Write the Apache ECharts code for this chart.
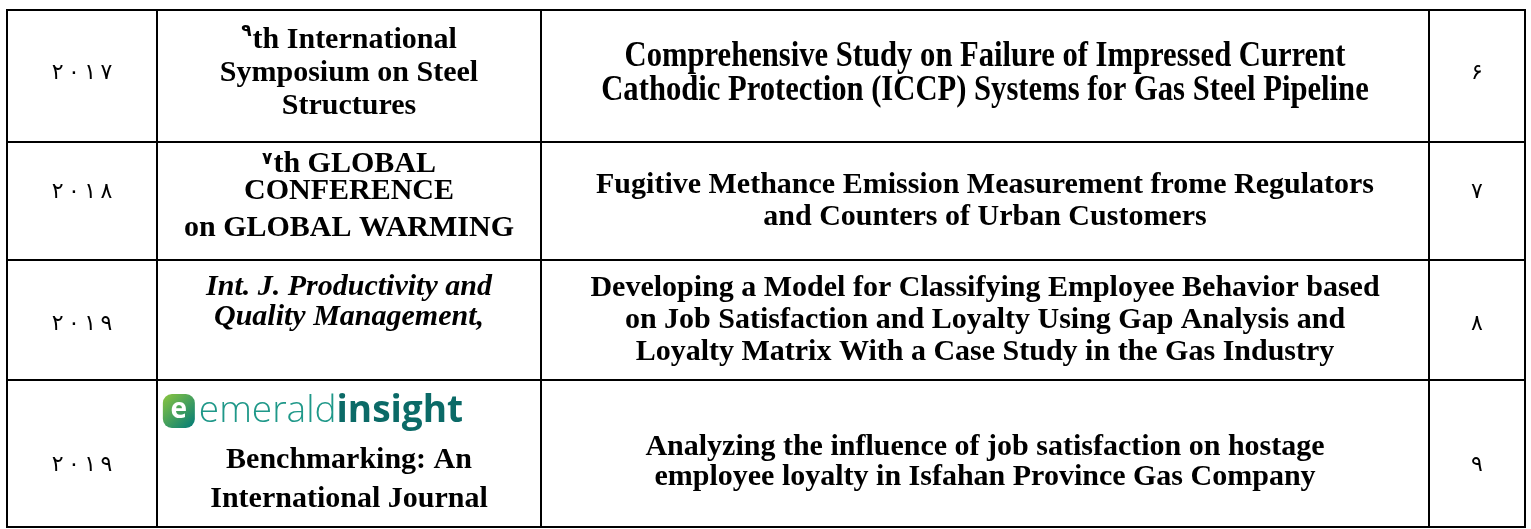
<!DOCTYPE html>
<html><head><meta charset="utf-8">
<script src="https://cdn.jsdelivr.net/npm/echarts@6/dist/echarts.min.js"></script>
<style>html,body{margin:0;padding:0;background:#fff}#c{width:1531px;height:529px}</style>
</head><body><div id="c"></div>
<script>
// ---- table content ----
const years = ['٢٠١٧', '٢٠١٨', '۲۰۱۹', '٢٠١٩'];
const venues = [
  '٩th International\nSymposium on Steel\nStructures',
  '٧th GLOBAL\nCONFERENCE\non GLOBAL WARMING',
  'Int. J. Productivity and\nQuality Management,',
  'Benchmarking: An\nInternational Journal'
];
const venueLogos = ['', '', '', 'emerald|insight'];
const titles = [
  'Comprehensive Study on Failure of Impressed Current\nCathodic Protection (ICCP) Systems for Gas Steel Pipeline',
  'Fugitive Methance Emission Measurement frome Regulators\nand Counters of Urban Customers',
  'Developing a Model for Classifying Employee Behavior based\non Job Satisfaction and Loyalty Using Gap Analysis and\nLoyalty Matrix With a Case Study in the Gas Industry',
  'Analyzing the influence of job satisfaction on hostage\nemployee loyalty in Isfahan Province Gas Company'
];
const numbers = ['۶', '٧', '٨', '٩'];

// ---- layout (pixels inside the grid) ----
const colEdges = [0, 150, 534, 1422, 1518];
const rowEdges = [0, 132, 250, 370, 517];
const venueLineHeights = [[33, 33, 33], [27, 27, 46], [30, 30], [39, 39]];
const venueDy = [-3, 0, -18, 0];
const venueItalic = [false, false, true, false];
const titleFont = [35, 30, 30, 30];
const titleLH = [34, 32, 32, 30];
const titleScaleX = [0.875, 1, 1, 1];
const titleDy = [-2, 0, 0, 9];
const sideDy = [-3, -9, 4, 12];
const SERIF = '"Liberation Serif","Times New Roman",serif';
const ARAB = '"DejaVu Sans",sans-serif';

const cells = [];
for (let r = 0; r < years.length; r++) for (let c = 0; c < 4; c++) cells.push([r, c]);

function spacedDigits(s) {
  return '\u202D' + s.split('').join('\u2009') + '\u202C';
}

function venueRich(r) {
  const lines = venues[r].split('\n');
  const rich = {
    sup: { fontFamily: ARAB, fontSize: 17, fontWeight: 'bold', fill: '#000', verticalAlign: 'top', padding: [0, 1, 0, 0] }
  };
  const out = lines.map((ln, i) => {
    rich['l' + i] = {
      fontFamily: SERIF, fontSize: 30, fontWeight: 'bold',
      fontStyle: venueItalic[r] ? 'italic' : 'normal',
      lineHeight: venueLineHeights[r][i], fill: '#000'
    };
    const m = ln.match(/^([\u0660-\u0669\u06F0-\u06F9]+)(.*)$/);
    if (m) return '{sup|' + m[1] + '}{l' + i + '|' + m[2] + '}';
    return '{l' + i + '|' + ln + '}';
  });
  return { text: out.join('\n'), rich };
}

function renderItem(params, api) {
  const r = api.value(0), c = api.value(1);
  const p0 = api.coord([colEdges[c], rowEdges[r]]);
  const p1 = api.coord([colEdges[c + 1], rowEdges[r + 1]]);
  const x = p0[0], y = p0[1], w = p1[0] - p0[0], h = p1[1] - p0[1];
  const cx = x + w / 2, cy = y + h / 2;
  const children = [{
    type: 'rect', shape: { x, y, width: w, height: h },
    style: { fill: '#fff', stroke: '#000', lineWidth: 2 }
  }];
  if (c === 0) {
    children.push({ type: 'text', x: cx, y: cy + sideDy[r], style: {
      text: spacedDigits(years[r]), font: 'normal 22px ' + ARAB, fill: '#000', align: 'center', verticalAlign: 'middle' } });
  } else if (c === 3) {
    children.push({ type: 'text', x: cx, y: cy + sideDy[r], style: {
      text: numbers[r], font: 'normal 22px ' + ARAB, fill: '#000', align: 'center', verticalAlign: 'middle' } });
  } else if (c === 2) {
    children.push({ type: 'text', x: cx, y: cy + titleDy[r], scaleX: titleScaleX[r], originX: 0, originY: 0,
      style: { text: titles[r], font: 'bold ' + titleFont[r] + 'px ' + SERIF, lineHeight: titleLH[r], fill: '#000', align: 'center', verticalAlign: 'middle' } });
  } else if (c === 1) {
    const vr = venueRich(r);
    if (venueLogos[r]) {
      const parts = venueLogos[r].split('|');
      children.push({ type: 'text', x: cx - 36, y: y + 31, style: {
        text: '{icon|e}{em|' + parts[0] + '}{ins|' + parts[1] + '}', align: 'center', verticalAlign: 'middle',
        rich: {
          icon: { fill: '#fff', fontFamily: '"Open Sans",sans-serif', fontWeight: 'bold', fontSize: 28,
            width: 32, height: 32, lineHeight: 32, align: 'center', borderRadius: 9,
            backgroundColor: { type: 'linear', x: 0, y: 0, x2: 1, y2: 1, colorStops: [{ offset: 0, color: '#8cc63f' }, { offset: 1, color: '#007a78' }] },
            padding: [0, 0, 2, 0] },
          em: { fill: '#1f9889', fontFamily: '"Open Sans",sans-serif', fontWeight: 300, fontSize: 37, padding: [0, 0, 0, 4] },
          ins: { fill: '#0b6a67', fontFamily: '"Open Sans",sans-serif', fontWeight: 'bold', fontSize: 37 }
        } } });
      children.push({ type: 'text', x: cx, y: y + 100, style: {
        text: vr.text, rich: vr.rich, align: 'center', verticalAlign: 'middle' } });
    } else {
      children.push({ type: 'text', x: cx, y: cy + venueDy[r], style: {
        text: vr.text, rich: vr.rich, align: 'center', verticalAlign: 'middle' } });
    }
  }
  return { type: 'group', children };
}

const chart = echarts.init(document.getElementById('c'), null, { renderer: 'canvas' });
chart.setOption({
  animation: false,
  backgroundColor: '#fff',
  grid: { left: 7, top: 10, width: 1518, height: 517 },
  xAxis: { type: 'value', min: 0, max: 1518, show: false },
  yAxis: { type: 'value', min: 0, max: 517, inverse: true, show: false },
  series: [{
    type: 'custom', renderItem, data: cells, clip: false,
    encode: { x: 1, y: 0 }
  }]
});
</script>
</body></html>
